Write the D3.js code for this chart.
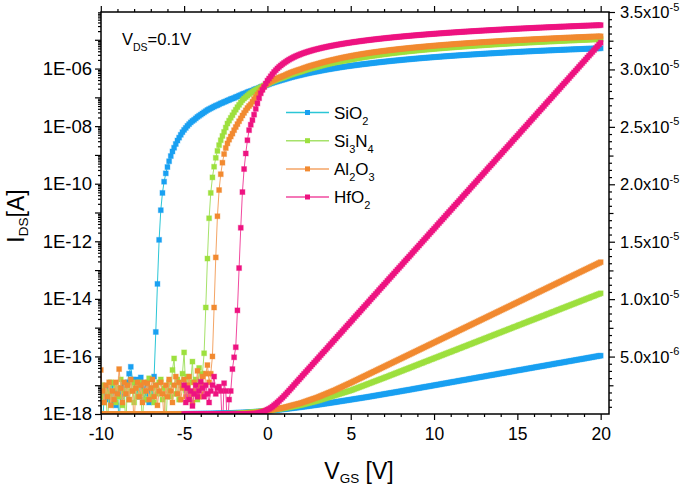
<!DOCTYPE html>
<html><head><meta charset="utf-8">
<script src="https://cdn.jsdelivr.net/npm/d3@7"></script>
<style>body{margin:0;background:#fff}</style>
</head><body><svg id="c" width="685" height="488"></svg>
<script>
// ---------------- DATA ----------------
// Gate voltage grid: starts at the series' first voltage, step 0.1 V
const vStep = 0.1;
const materials = ["SiO2", "Si3N4", "Al2O3", "HfO2"];
const seriesStartV = [-10, -10, -10, -5];
// log10(I_DS / A) for V_GS < 0 (off / subthreshold region)
const sio2LogNeg = [
-17.3,-18.5,-17.4,-17.1,-17.5,-17.2,-17.6,-17.0,-17.3,-17.7,
-17.2,-18.4,-17.1,-17.4,-17.0,-17.3,-16.9,-16.6,-16.36,-16.8,
-16.9,-17.2,-16.8,-17.4,-16.73,-17.1,-17.5,-17.0,-17.3,-17.6,
-17.2,-17.4,-16.7,-15.15,-13.48,-11.95,-10.92,-10.32,-9.93,-9.64,
-9.42,-9.22,-9.04,-8.88,-8.75,-8.62,-8.50,-8.40,-8.30,-8.21,
-8.13,-8.06,-7.99,-7.93,-7.87,-7.82,-7.78,-7.73,-7.68,-7.64,
-7.60,-7.56,-7.52,-7.48,-7.44,-7.41,-7.38,-7.35,-7.32,-7.29,
-7.27,-7.24,-7.21,-7.19,-7.16,-7.14,-7.11,-7.09,-7.06,-7.04,
-7.02,-6.99,-6.97,-6.94,-6.92,-6.89,-6.87,-6.85,-6.82,-6.80,
-6.78,-6.76,-6.73,-6.71,-6.69,-6.67,-6.64,-6.62,-6.60,-6.58];
const si3n4LogNeg = [
-17.4,-17.0,-17.6,-17.2,-18.3,-17.3,-16.9,-17.5,-16.93,-17.6,
-17.1,-17.4,-16.8,-17.7,-17.2,-18.4,-17.0,-17.5,-17.2,-16.9,
-17.6,-17.1,-17.4,-16.9,-17.3,-18.3,-17.2,-17.5,-16.9,-16.76,
-17.4,-17.1,-17.6,-17.0,-17.3,-16.9,-16.8,-17.5,-17.1,-18.5,
-17.2,-16.9,-17.4,-16.47,-16.07,-17.3,-16.8,-17.5,-17.0,-16.6,
-15.86,-17.2,-16.7,-17.4,-16.9,-16.18,-17.3,-16.8,-17.5,-16.4,
-17.0,-16.6,-15.89,-14.3,-12.6,-11.2,-10.32,-9.78,-9.41,-9.10,
-8.86,-8.66,-8.49,-8.34,-8.20,-8.05,-7.91,-7.81,-7.71,-7.62,
-7.52,-7.43,-7.34,-7.26,-7.18,-7.10,-7.04,-6.99,-6.94,-6.89,
-6.85,-6.81,-6.77,-6.74,-6.71,-6.68,-6.65,-6.62,-6.59,-6.56];
const al2o3LogNeg = [
-16.47,-17.2,-17.6,-17.0,-17.4,-16.9,-17.7,-17.2,-17.5,-16.9,
-17.3,-16.44,-17.1,-17.6,-16.9,-17.3,-17.0,-17.5,-16.8,-17.2,
-18.4,-17.1,-16.9,-17.4,-17.0,-17.6,-16.9,-17.2,-16.93,-17.5,
-17.1,-16.8,-17.4,-17.0,-17.7,-17.2,-16.9,-17.3,-18.3,-17.0,
-17.4,-16.8,-17.2,-17.6,-17.0,-16.7,-17.3,-16.9,-17.5,-17.1,
-16.8,-17.4,-17.0,-16.7,-17.3,-17.6,-16.9,-17.2,-16.5,-17.4,
-17.0,-16.7,-17.3,-16.6,-16.3,-16.9,-16.6,-16.0,-14.3,-12.56,
-11.13,-10.22,-9.67,-9.27,-8.97,-8.76,-8.60,-8.47,-8.36,-8.26,
-8.14,-8.03,-7.93,-7.83,-7.73,-7.63,-7.54,-7.45,-7.37,-7.30,
-7.24,-7.15,-7.06,-6.98,-6.90,-6.83,-6.76,-6.69,-6.62,-6.56];
const hfo2LogNeg = [
-17.0,-17.6,-17.1,-17.5,-17.2,-17.72,-17.3,-17.0,-17.4,-17.2,
-16.88,-17.1,-17.4,-17.0,-17.3,-17.6,-17.2,-17.0,-16.7,-17.3,
-17.1,-17.05,-17.2,-18.6,-16.93,-17.2,-18.6,-17.5,-17.2,-16.44,
-16.03,-15.68,-14.4,-12.93,-11.53,-10.29,-9.49,-8.95,-8.49,-8.14,
-7.95,-7.79,-7.60,-7.40,-7.21,-7.03,-6.86,-6.74,-6.64,-6.52];
// I_DS in microampere for V_GS = 0 ... 20 V (on region)
const sio2OnUA = [
0.275,0.289,0.303,0.317,0.332,0.346,0.361,0.375,0.390,0.405,0.420,
0.438,0.456,0.474,0.492,0.510,0.528,0.546,0.564,0.582,0.600,
0.62,0.64,0.66,0.68,0.70,0.72,0.74,0.76,0.78,0.80,
0.822,0.844,0.866,0.888,0.910,0.932,0.954,0.976,0.998,1.020,
1.043,1.066,1.089,1.112,1.135,1.158,1.181,1.204,1.227,1.250,
1.273,1.296,1.319,1.342,1.365,1.388,1.411,1.434,1.457,1.480,
1.505,1.530,1.555,1.580,1.605,1.630,1.655,1.680,1.705,1.730,
1.755,1.780,1.805,1.830,1.855,1.880,1.905,1.930,1.955,1.980,
2.01,2.03,2.06,2.08,2.11,2.13,2.16,2.19,2.21,2.24,
2.26,2.29,2.32,2.34,2.37,2.39,2.42,2.44,2.47,2.50,
2.52,2.55,2.57,2.60,2.63,2.65,2.68,2.70,2.73,2.76,
2.78,2.81,2.83,2.86,2.89,2.91,2.94,2.96,2.99,3.01,
3.04,3.07,3.09,3.12,3.14,3.17,3.20,3.22,3.25,3.27,
3.30,3.33,3.35,3.38,3.40,3.43,3.45,3.48,3.51,3.53,
3.56,3.58,3.61,3.64,3.66,3.69,3.71,3.74,3.77,3.79,
3.82,3.84,3.87,3.89,3.92,3.95,3.97,4.00,4.02,4.05,
4.08,4.10,4.13,4.15,4.18,4.20,4.23,4.26,4.28,4.31,
4.33,4.36,4.39,4.41,4.44,4.46,4.49,4.51,4.54,4.57,
4.59,4.62,4.64,4.67,4.70,4.72,4.75,4.77,4.80,4.82,
4.85,4.88,4.90,4.93,4.95,4.98,5.01,5.03,5.06,5.08];
const si3n4OnUA = [
0.290,0.311,0.332,0.353,0.374,0.395,0.416,0.437,0.458,0.479,0.500,
0.528,0.556,0.584,0.612,0.640,0.668,0.696,0.724,0.752,0.780,
0.817,0.854,0.891,0.928,0.965,1.002,1.039,1.076,1.113,1.150,
1.195,1.240,1.285,1.330,1.375,1.420,1.465,1.510,1.555,1.600,
1.645,1.690,1.735,1.780,1.825,1.870,1.915,1.960,2.005,2.050,
2.105,2.160,2.215,2.270,2.325,2.380,2.435,2.490,2.545,2.600,
2.655,2.710,2.765,2.820,2.875,2.930,2.985,3.040,3.095,3.150,
3.21,3.26,3.32,3.38,3.43,3.49,3.55,3.60,3.66,3.72,
3.77,3.83,3.89,3.94,4.00,4.06,4.11,4.17,4.23,4.28,
4.34,4.40,4.45,4.51,4.57,4.62,4.68,4.74,4.79,4.85,
4.91,4.96,5.02,5.08,5.13,5.19,5.25,5.30,5.36,5.41,
5.47,5.53,5.58,5.64,5.70,5.75,5.81,5.87,5.92,5.98,
6.04,6.09,6.15,6.21,6.26,6.32,6.38,6.43,6.49,6.55,
6.60,6.66,6.72,6.77,6.83,6.89,6.94,7.00,7.06,7.11,
7.17,7.23,7.28,7.34,7.40,7.45,7.51,7.57,7.62,7.68,
7.74,7.79,7.85,7.91,7.96,8.02,8.08,8.13,8.19,8.24,
8.30,8.36,8.41,8.47,8.53,8.58,8.64,8.70,8.75,8.81,
8.87,8.92,8.98,9.04,9.09,9.15,9.21,9.26,9.32,9.38,
9.43,9.49,9.55,9.60,9.66,9.72,9.77,9.83,9.89,9.94,
10.00,10.06,10.11,10.17,10.23,10.28,10.34,10.40,10.45,10.51];
const al2o3OnUA = [
0.300,0.327,0.354,0.381,0.408,0.435,0.462,0.489,0.516,0.543,0.570,
0.608,0.646,0.684,0.722,0.760,0.798,0.836,0.874,0.912,0.950,
1.00,1.05,1.10,1.15,1.20,1.25,1.30,1.35,1.40,1.45,
1.51,1.57,1.63,1.69,1.75,1.81,1.87,1.93,1.99,2.05,
2.117,2.184,2.251,2.318,2.385,2.452,2.519,2.586,2.653,2.720,
2.79,2.86,2.93,3.00,3.07,3.14,3.21,3.28,3.35,3.42,
3.49,3.56,3.63,3.70,3.77,3.84,3.91,3.98,4.05,4.12,
4.19,4.26,4.33,4.40,4.47,4.54,4.61,4.68,4.75,4.82,
4.89,4.96,5.03,5.10,5.17,5.24,5.31,5.38,5.45,5.52,
5.59,5.66,5.73,5.80,5.87,5.94,6.01,6.08,6.15,6.22,
6.29,6.36,6.43,6.50,6.57,6.64,6.71,6.78,6.85,6.92,
6.99,7.06,7.13,7.20,7.27,7.34,7.41,7.48,7.55,7.62,
7.69,7.76,7.83,7.90,7.97,8.04,8.11,8.18,8.25,8.32,
8.39,8.46,8.53,8.60,8.67,8.74,8.81,8.88,8.95,9.02,
9.09,9.16,9.23,9.30,9.37,9.44,9.51,9.58,9.65,9.72,
9.79,9.86,9.93,10.00,10.07,10.14,10.21,10.28,10.35,10.42,
10.49,10.56,10.63,10.70,10.77,10.84,10.91,10.98,11.05,11.12,
11.19,11.26,11.33,11.40,11.47,11.54,11.61,11.68,11.75,11.82,
11.89,11.96,12.03,12.10,12.17,12.24,12.31,12.38,12.45,12.52,
12.59,12.66,12.73,12.80,12.87,12.94,13.01,13.08,13.15,13.22];
const hfo2OnUA = [
0.38,0.45,0.54,0.64,0.76,0.88,1.01,1.14,1.28,1.42,1.57,
1.72,1.88,2.04,2.20,2.36,2.53,2.69,2.85,3.01,3.17,
3.34,3.50,3.66,3.82,3.98,4.14,4.31,4.47,4.63,4.79,
4.95,5.12,5.28,5.44,5.60,5.76,5.93,6.09,6.25,6.41,
6.57,6.74,6.90,7.06,7.22,7.38,7.55,7.71,7.87,8.03,
8.19,8.36,8.52,8.68,8.84,9.00,9.17,9.33,9.49,9.65,
9.81,9.98,10.14,10.30,10.46,10.62,10.79,10.95,11.11,11.27,
11.43,11.60,11.76,11.92,12.08,12.24,12.41,12.57,12.73,12.89,
13.05,13.22,13.38,13.54,13.70,13.86,14.03,14.19,14.35,14.51,
14.67,14.84,15.00,15.16,15.32,15.48,15.65,15.81,15.97,16.13,
16.29,16.46,16.62,16.78,16.94,17.10,17.27,17.43,17.59,17.75,
17.91,18.08,18.24,18.40,18.56,18.72,18.89,19.05,19.21,19.37,
19.53,19.70,19.86,20.02,20.18,20.34,20.51,20.67,20.83,20.99,
21.15,21.32,21.48,21.64,21.80,21.96,22.13,22.29,22.45,22.61,
22.77,22.94,23.10,23.26,23.42,23.58,23.75,23.91,24.07,24.23,
24.39,24.56,24.72,24.88,25.04,25.20,25.37,25.53,25.69,25.85,
26.01,26.18,26.34,26.50,26.66,26.82,26.99,27.15,27.31,27.47,
27.63,27.80,27.96,28.12,28.28,28.44,28.61,28.77,28.93,29.09,
29.25,29.42,29.58,29.74,29.90,30.06,30.23,30.39,30.55,30.71,
30.87,31.04,31.20,31.36,31.52,31.68,31.85,32.01,32.17,32.33];

const xTickValues = [-10, -5, 0, 5, 10, 15, 20];
const xTickLabels = ["-10", "-5", "0", "5", "10", "15", "20"];
const leftTickValues = [1e-18, 1e-16, 1e-14, 1e-12, 1e-10, 1e-8, 1e-6];
const leftTickLabels = ["1E-18", "1E-16", "1E-14", "1E-12", "1E-10", "1E-08", "1E-06"];
const rightTickValues = [5e-6, 1e-5, 1.5e-5, 2e-5, 2.5e-5, 3e-5, 3.5e-5];
const rightTickMant = ["5.0", "1.0", "1.5", "2.0", "2.5", "3.0", "3.5"];
const rightTickExp = ["-6", "-5", "-5", "-5", "-5", "-5", "-5"];
const legendParts = [
  [["SiO", 0], ["2", 1]],
  [["Si", 0], ["3", 1], ["N", 0], ["4", 1]],
  [["Al", 0], ["2", 1], ["O", 0], ["3", 1]],
  [["HfO", 0], ["2", 1]]
];
const markerColors = ["#19a0f2", "#9de03e", "#f28a30", "#ee1381"];
const lineColors = ["#2bc6d6", "#a6e26a", "#f4a566", "#f14a9f"];

// ---------------- CHART ----------------
const FONT = '"Liberation Sans", Arial, Helvetica, sans-serif';
const svg = d3.select("#c");
svg.append("rect").attr("width", 685).attr("height", 488).attr("fill", "#fff");
const L = 101, R = 609, T = 12, B = 414;
const x = d3.scaleLinear().domain([-10, 20.5]).range([100.8, 609]);
const yLog = d3.scaleLog().domain([1e-18, 1e-4]).range([414, 11]);
const yLin = d3.scaleLinear().domain([0, 3.5e-5]).range([414, 12]);

function makeSeries(logNeg, onUA, v0) {
  const pts = [];
  logNeg.forEach((l, i) => pts.push({ v: +(v0 + i * vStep).toFixed(1), i: Math.pow(10, l) }));
  onUA.forEach((u, i) => pts.push({ v: +(i * vStep).toFixed(1), i: u * 1e-6 }));
  return pts;
}
const series = [
  makeSeries(sio2LogNeg, sio2OnUA, seriesStartV[0]),
  makeSeries(si3n4LogNeg, si3n4OnUA, seriesStartV[1]),
  makeSeries(al2o3LogNeg, al2o3OnUA, seriesStartV[2]),
  makeSeries(hfo2LogNeg, hfo2OnUA, seriesStartV[3])
];

svg.append("clipPath").attr("id", "clip").append("rect")
  .attr("x", L).attr("y", T).attr("width", R - L).attr("height", B - T);
const plot = svg.append("g").attr("clip-path", "url(#clip)");
const MS = 5;
function drawSeries(data, y, k) {
  const g = plot.append("g");
  g.append("path").datum(data)
    .attr("d", d3.line().x(d => x(d.v)).y(d => y(d.i)))
    .attr("fill", "none").attr("stroke", lineColors[k]).attr("stroke-width", 1);
  g.selectAll("rect").data(data).join("rect")
    .attr("x", d => x(d.v) - MS / 2).attr("y", d => y(d.i) - MS / 2)
    .attr("width", MS).attr("height", MS).attr("fill", markerColors[k])
    .attr("stroke", markerColors[k]).attr("stroke-opacity", 0.35).attr("stroke-width", 1);
}
series.forEach((s, k) => drawSeries(s, yLog, k));
series.forEach((s, k) => drawSeries(s, yLin, k));

// frame
svg.append("rect").attr("x", L).attr("y", T).attr("width", R - L).attr("height", B - T)
  .attr("fill", "none").attr("stroke", "#000").attr("stroke-width", 1.5);

function styleAxis(g, fs) {
  g.select(".domain").remove();
  g.attr("font-family", FONT).attr("font-size", fs || 17);
  g.selectAll("line").attr("stroke", "#000").attr("stroke-width", 1.2);
  g.selectAll("text").attr("fill", "#000");
}
// x ticks
const xMinor = d3.range(-10, 21, 1).filter(v => v % 5 !== 0);
styleAxis(svg.append("g").attr("transform", `translate(0,${B})`)
  .call(d3.axisBottom(x).tickValues(xTickValues).tickFormat((d, i) => xTickLabels[i]).tickSize(6).tickPadding(8)), 17.5);
styleAxis(svg.append("g").attr("transform", `translate(0,${B})`)
  .call(d3.axisBottom(x).tickValues(xMinor).tickFormat("").tickSize(3)));
styleAxis(svg.append("g").attr("transform", `translate(0,${T})`)
  .call(d3.axisTop(x).tickValues(xTickValues).tickFormat("").tickSize(6)));
styleAxis(svg.append("g").attr("transform", `translate(0,${T})`)
  .call(d3.axisTop(x).tickValues(xMinor).tickFormat("").tickSize(3)));

// left log ticks
const yTop = yLog.invert(T);
const oddDecades = [], logMinor = [];
for (let n = -18; n <= -5; n++) {
  if (n % 2 !== 0) oddDecades.push(Math.pow(10, n));
  for (let k = 2; k <= 9; k++) { const v = k * Math.pow(10, n); if (v < yTop) logMinor.push(v); }
}
styleAxis(svg.append("g").attr("transform", `translate(${L},0)`)
  .call(d3.axisLeft(yLog).tickValues(leftTickValues).tickFormat((d, i) => leftTickLabels[i]).tickSize(6).tickPadding(3)), 18.5);
styleAxis(svg.append("g").attr("transform", `translate(${L},0)`)
  .call(d3.axisLeft(yLog).tickValues(oddDecades).tickFormat("").tickSize(6)));
styleAxis(svg.append("g").attr("transform", `translate(${L},0)`)
  .call(d3.axisLeft(yLog).tickValues(logMinor).tickFormat("").tickSize(3)));

// right linear ticks
const rMinor = [], rMid = [];
for (let j = 1; j < 56; j++) {
  const v = j * 0.625e-6;
  if (j % 8 === 0) continue;
  if (j % 4 === 0) rMid.push(v); else rMinor.push(v);
}
styleAxis(svg.append("g").attr("transform", `translate(${R},0)`)
  .call(d3.axisRight(yLin).tickValues(rightTickValues).tickFormat("").tickSize(6)));
styleAxis(svg.append("g").attr("transform", `translate(${R},0)`)
  .call(d3.axisRight(yLin).tickValues(rMid).tickFormat("").tickSize(4.5)));
styleAxis(svg.append("g").attr("transform", `translate(${R},0)`)
  .call(d3.axisRight(yLin).tickValues(rMinor).tickFormat("").tickSize(3)));
const rl = svg.append("g").attr("font-family", FONT).attr("fill", "#000");
rightTickValues.forEach((v, i) => {
  const t = rl.append("text").attr("x", 620).attr("y", yLin(v) + 6).attr("font-size", 16.5);
  t.append("tspan").text(rightTickMant[i] + "x10");
  t.append("tspan").attr("font-size", 11).attr("dy", -7.5).text(rightTickExp[i]);
});

// axis titles
const xt = svg.append("text").attr("x", 359).attr("y", 479).attr("text-anchor", "middle")
  .attr("font-family", FONT).attr("font-size", 23).attr("fill", "#000");
xt.append("tspan").text("V");
xt.append("tspan").attr("font-size", 13.5).attr("dy", 4).text("GS");
xt.append("tspan").attr("dy", -4).text(" [V]");
const yt = svg.append("text").attr("transform", "translate(24,216) rotate(-90)").attr("text-anchor", "middle")
  .attr("font-family", FONT).attr("font-size", 23).attr("fill", "#000");
yt.append("tspan").text("I");
yt.append("tspan").attr("font-size", 13.5).attr("dy", 4).text("DS");
yt.append("tspan").attr("dy", -4).text("[A]");

// V_DS annotation
const vd = svg.append("text").attr("x", 122).attr("y", 45).attr("font-family", FONT)
  .attr("font-size", 16.5).attr("fill", "#000");
vd.append("tspan").text("V");
vd.append("tspan").attr("font-size", 10.5).attr("dy", 6).text("DS");
vd.append("tspan").attr("dy", -6).text("=0.1V");

// legend
const lg = svg.append("g");
const legendY = [112.5, 140.7, 168.9, 197];
materials.forEach((m, k) => {
  const yy = legendY[k];
  lg.append("line").attr("x1", 286).attr("x2", 329).attr("y1", yy).attr("y2", yy)
    .attr("stroke", lineColors[k]).attr("stroke-width", 1.5);
  lg.append("rect").attr("x", 307.5 - MS / 2).attr("y", yy - MS / 2).attr("width", MS).attr("height", MS)
    .attr("fill", markerColors[k]);
  const t = lg.append("text").attr("x", 334).attr("y", yy + 6).attr("font-family", FONT)
    .attr("font-size", 17).attr("fill", "#000");
  let sub = false;
  legendParts[k].forEach(([s, isSub]) => {
    const ts = t.append("tspan").text(s);
    if (isSub && !sub) { ts.attr("dy", 6).attr("font-size", 11); sub = true; }
    else if (isSub) { ts.attr("font-size", 11); }
    else if (!isSub && sub) { ts.attr("dy", -6); sub = false; }
  });
});
</script></body></html>
